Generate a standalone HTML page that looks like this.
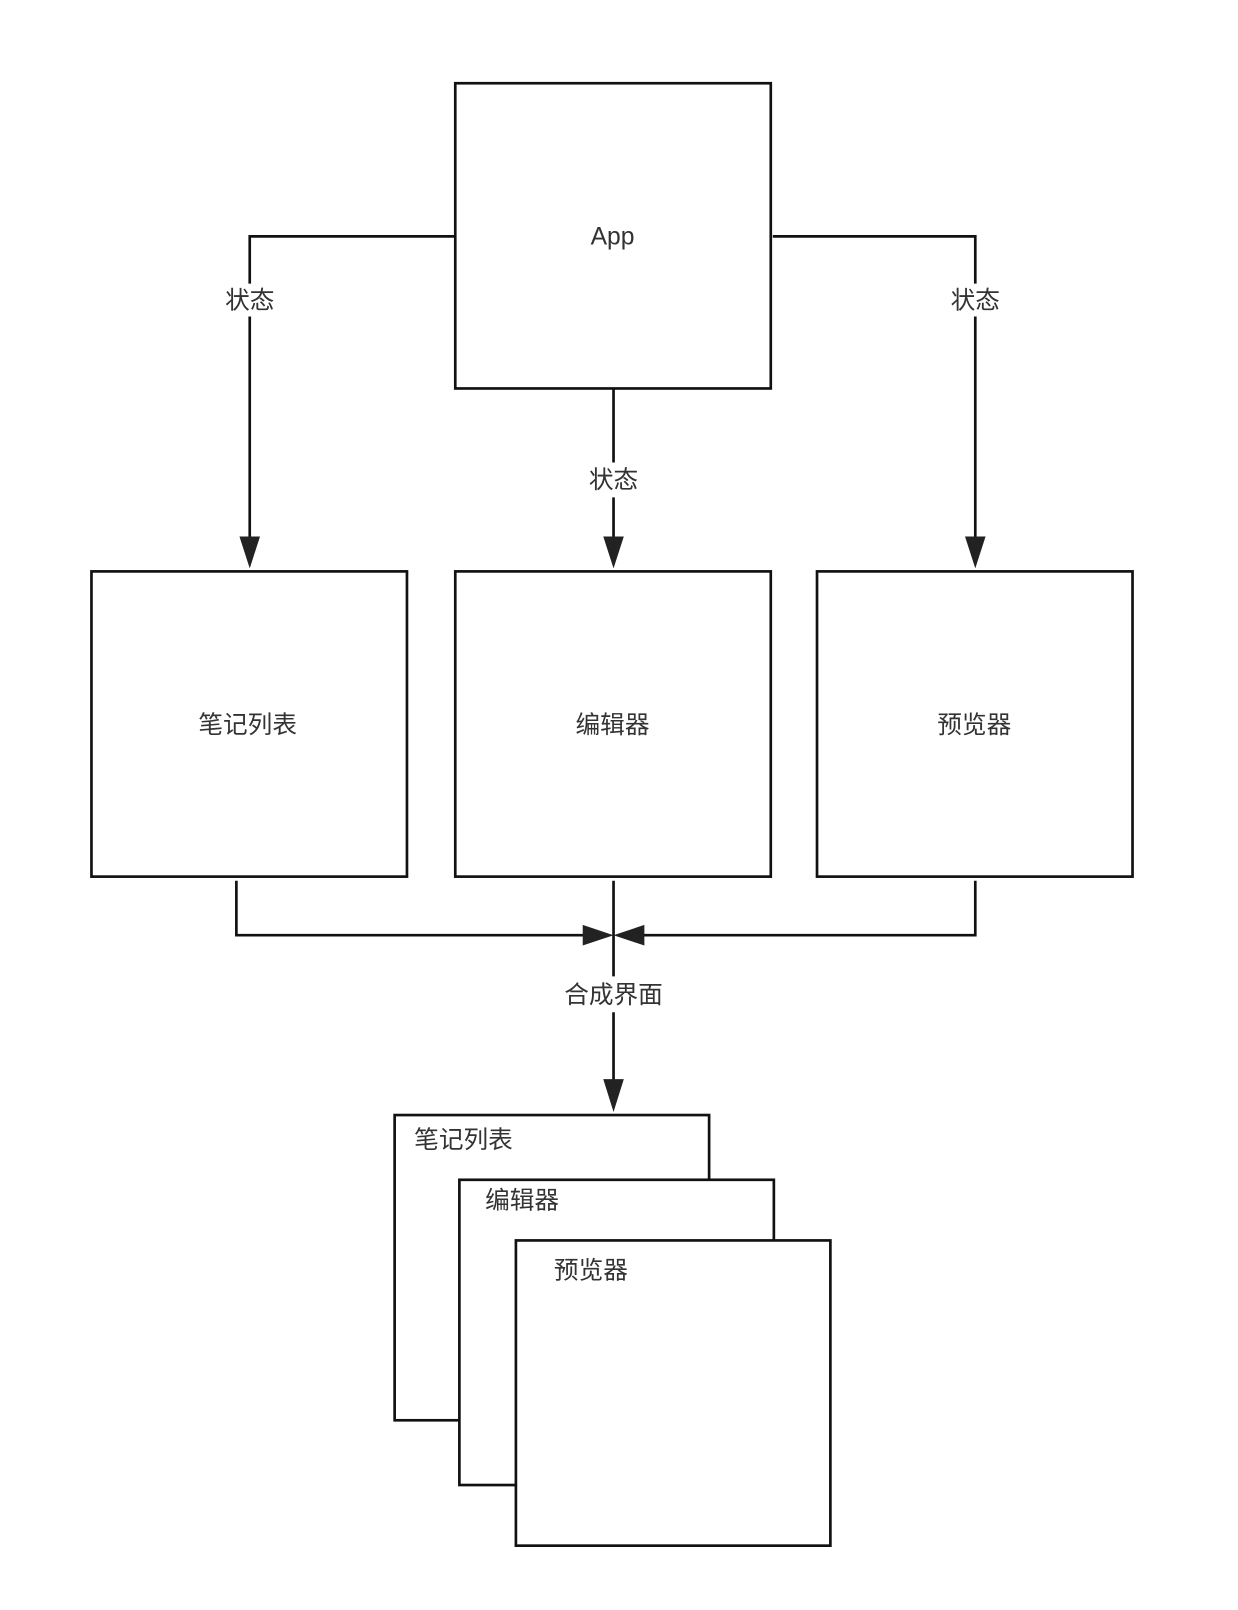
<!DOCTYPE html>
<html><head><meta charset="utf-8"><style>
html,body{margin:0;padding:0;background:#fff;}
svg{display:block;}
text{font-family:"Liberation Sans","Noto Sans CJK SC",sans-serif;fill:#333;font-size:24px;}
</style></head><body>
<svg width="1238" height="1610" viewBox="0 0 1238 1610" xmlns="http://www.w3.org/2000/svg">
<g transform="scale(1.0277)">
<g fill="#fff" stroke="#111" stroke-width="2.6">
<rect x="443" y="81" width="307" height="297"/>
<rect x="89" y="556" width="307" height="297"/>
<rect x="443" y="556" width="307" height="297"/>
<rect x="795" y="556" width="307" height="297"/>
<rect x="384" y="1085" width="306" height="297"/>
<rect x="447" y="1148" width="306" height="297"/>
<rect x="502" y="1207" width="306" height="297"/>
</g>
<g fill="none" stroke="#111" stroke-width="2.6">
<polyline points="443,230 243,230 243,276"/>
<line x1="243" y1="308" x2="243" y2="524"/>
<polyline points="752,230 949,230 949,276"/>
<line x1="949" y1="308" x2="949" y2="524"/>
<line x1="597" y1="378" x2="597" y2="450"/>
<line x1="597" y1="484" x2="597" y2="524"/>
<polyline points="230,857 230,910 570,910"/>
<polyline points="949,857 949,910 624,910"/>
<line x1="597" y1="857" x2="597" y2="950"/>
<line x1="597" y1="985" x2="597" y2="1052"/>
</g>
<g fill="#222">
<polygon points="233,522 253,522 243,553"/>
<polygon points="939,522 959,522 949,553"/>
<polygon points="587,522 607,522 597,553"/>
<polygon points="587,1050 607,1050 597,1082"/>
<polygon points="567,900 567,920 597,910"/>
<polygon points="627,900 627,920 597,910"/>
</g>
<g text-anchor="middle">
<text x="596" y="238">App</text>
<text x="243" y="300">状态</text>
<text x="949" y="300">状态</text>
<text x="597" y="475">状态</text>
<text x="241" y="713">笔记列表</text>
<text x="596" y="713">编辑器</text>
<text x="948" y="713">预览器</text>
<text x="597" y="976">合成界面</text>
</g>
<text x="403" y="1117">笔记列表</text>
<text x="472" y="1176">编辑器</text>
<text x="539" y="1244">预览器</text>
</g>
</svg>
</body></html>
